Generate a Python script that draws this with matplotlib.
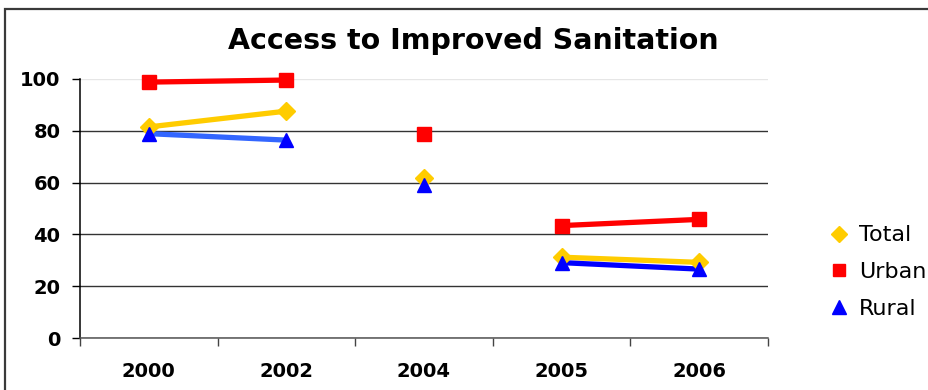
import matplotlib
matplotlib.use("Agg")
import matplotlib.pyplot as plt
from matplotlib.lines import Line2D
from matplotlib.patches import Rectangle
import numpy as np

# Survey years and access rates (%)
years = ["2000", "2002", "2004", "2005", "2006"]
total = [81.5, 87.6, 61.8, 31.2, 29.2]
urban = [98.8, 99.6, 78.8, 43.4, 45.8]
rural = [78.9, 76.4, 59.2, 29.1, 26.6]

# Consecutive surveys joined by a line (index pairs)
segments = [(0, 1), (3, 4)]

title = "Access to Improved Sanitation"
yticks = [0, 20, 40, 60, 80, 100]

plt.rcParams["font.family"] = ["DejaVu Sans"]

W, H = 929, 390
fig = plt.figure(figsize=(W / 100, H / 100), dpi=100)
fig.patch.set_facecolor("white")

# chart frame
fig.patches.append(Rectangle((5 / W, -0.2), 1.2, (H - 9) / H + 0.2,
                             transform=fig.transFigure, fill=False,
                             ec="#3a3a3a", lw=1.6, clip_on=False))

ax = fig.add_axes([80 / W, 1 - 338 / H, (768 - 80) / W, (338 - 79) / H])
x = np.arange(len(years))

series = [
    ("Total", total, "D", "#FFCC00", ["#FFCC00", "#FFCC00"], 9.5),
    ("Urban", urban, "s", "#FF0000", ["#FF0000", "#FF0000"], 9.5),
    ("Rural", rural, "^", "#0000FF", ["#3366FF", "#0000FF"], 10.5),
]

handles = []
for name, vals, mk, mcol, lcols, ms in series:
    v = np.asarray(vals)
    for (i, j), lc in zip(segments, lcols):
        ax.plot(x[i:j + 1], v[i:j + 1], color=lc, lw=3.8,
                solid_capstyle="butt", zorder=3, clip_on=False)
    ax.plot(x, v, linestyle="none", marker=mk, ms=ms, color=mcol,
            mec=mcol, zorder=4, clip_on=False)
    handles.append(Line2D([], [], linestyle="none", marker=mk, ms=ms - 1,
                          color=mcol, mec=mcol, label=name))

ax.set_xlim(-0.5, len(years) - 0.5)
ax.set_ylim(0, 100)
ax.set_yticks(yticks)
ax.set_yticklabels([str(t) for t in yticks], fontsize=14, fontweight="bold")
ax.tick_params(axis="y", direction="out", length=6, width=1, pad=8,
               colors="black")

ax.set_xticks(x)
ax.set_xticklabels(years, fontsize=14, fontweight="bold")
ax.set_xticks(np.arange(-0.5, len(years)), minor=True)
ax.tick_params(axis="x", which="major", length=0, pad=17)
ax.tick_params(axis="x", which="minor", direction="out", length=6,
               width=1, color="#444444")

for s in ("top", "right"):
    ax.spines[s].set_visible(False)
ax.spines["left"].set_color("black")
ax.spines["left"].set_linewidth(1.1)
ax.spines["bottom"].set_color("#555555")
ax.spines["bottom"].set_linewidth(1.1)

ax.yaxis.grid(True, color="#333333", lw=1.0)
ax.set_axisbelow(True)
ax.get_ygridlines()[-1].set_color("#e6e6e6")

fig.text(473 / W, 1 - 41 / H, title, ha="center", va="center",
         fontsize=20.5, fontweight="bold")

fig.legend(handles=handles, loc="center left",
           bbox_to_anchor=(831 / W, 1 - 272 / H), frameon=False,
           fontsize=16, handlelength=0.7, handletextpad=0.55,
           labelspacing=0.75, borderpad=0, borderaxespad=0)

fig.savefig("out.png", dpi=100, facecolor="white")
